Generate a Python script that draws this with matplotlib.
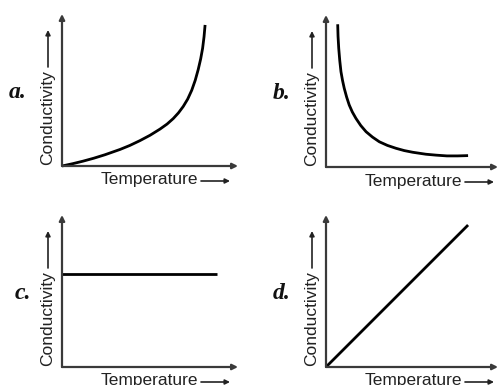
import matplotlib
matplotlib.use("Agg")
import matplotlib.pyplot as plt
from matplotlib.patches import FancyArrowPatch

W, H = 499, 385

# Data (in percent of each axis range)
a_temp = [0, 6, 12, 18, 24.4, 33, 38.5, 44.3, 50, 55.7, 59.7, 63.2, 66.2, 68.9,
          71.4, 73.7, 75.7, 77.4, 78.8, 79.9, 80.7, 81.3]
a_cond = [0, 1.5, 3.2, 5.1, 7.4, 10.9, 13.5, 16.7, 20.2, 24.3, 27.6, 31.2, 35.0, 39.2,
          44.0, 49.8, 56.4, 63.5, 70.5, 77.5, 85, 92.8]

b_temp = [6.8, 7.0, 7.4, 8.0, 8.7, 9.6, 10.6, 12, 13.5, 15.3, 17.4, 20.2, 23.3, 27,
          31, 35.7, 40.7, 45.5, 50.4, 58.1, 64, 70.3, 76.5, 82.6]
b_cond = [93.9, 86, 78.1, 70, 62.7, 57, 51.8, 46, 40.8, 36.2, 32, 27.3, 23.2, 19.7,
          16.6, 14.2, 12.3, 10.8, 9.7, 8.4, 7.8, 7.3, 7.3, 7.5]

c_temp = [0, 88]
c_cond = [61, 61]

d_temp = [0, 82.6]
d_cond = [0, 93.4]

panels = ["a.", "b.", "c.", "d."]
xlabel = "Temperature"
ylabel = "Conductivity"

fig = plt.figure(figsize=(W / 100, H / 100), dpi=100)


def fx(x):
    return x / W


def fy(y):
    return 1 - y / H


def make_axes(left, right, top, bottom):
    ax = fig.add_axes([fx(left), fy(bottom), (right - left) / W, (bottom - top) / H])
    ax.set_xlim(0, 100)
    ax.set_ylim(0, 100)
    ax.axis("off")
    axis_color = "#3a3a3a"
    for tip in [(1, 0), (0, 1)]:
        ax.annotate("", xy=tip, xytext=(0, 0), xycoords="axes fraction",
                    arrowprops=dict(arrowstyle="-|>", color=axis_color, lw=1.6,
                                    mutation_scale=8, shrinkA=0, shrinkB=0),
                    annotation_clip=False)
    return ax


boxes = [(62, 238, 14, 166), (326, 498, 15, 167), (62, 238, 215, 367), (326, 498, 215, 367)]
series = [(a_temp, a_cond), (b_temp, b_cond), (c_temp, c_cond), (d_temp, d_cond)]

for (left, right, top, bottom), (tx, cy), name in zip(boxes, series, panels):
    ax = make_axes(left, right, top, bottom)
    ax.plot(tx, cy, color="black", lw=2.0, solid_capstyle="butt",
            solid_joinstyle="round", clip_on=False)

    # y label: text + arrow
    lx = left - 14
    fig.text(fx(lx), fy(bottom - 1), ylabel, rotation=90, ha="center", va="bottom",
             family="Liberation Sans", fontsize=12.5, color="#222222")
    fig.add_artist(FancyArrowPatch(
        (fx(lx), fy(bottom - 99)), (fx(lx), fy(bottom - 136)),
        transform=fig.transFigure, arrowstyle="-|>", mutation_scale=7,
        lw=1.2, color="#222222", shrinkA=0, shrinkB=0))

    # x label: text + arrow
    ly = bottom + 14
    fig.text(fx(left + 39), fy(ly), xlabel, ha="left", va="center",
             family="Liberation Sans", fontsize=12.5, color="#222222")
    fig.add_artist(FancyArrowPatch(
        (fx(left + 139), fy(ly + 1)), (fx(left + 168), fy(ly + 1)),
        transform=fig.transFigure, arrowstyle="-|>", mutation_scale=7,
        lw=1.2, color="#222222", shrinkA=0, shrinkB=0))

    # panel letter
    fig.text(fx(left - 53 + (6 if name == "c." else 0)), fy(top + 84), name,
             ha="left", va="baseline", family="Liberation Serif",
             fontweight="bold", fontstyle="italic", fontsize=17, color="#111111")

fig.savefig("out.png", dpi=100)
